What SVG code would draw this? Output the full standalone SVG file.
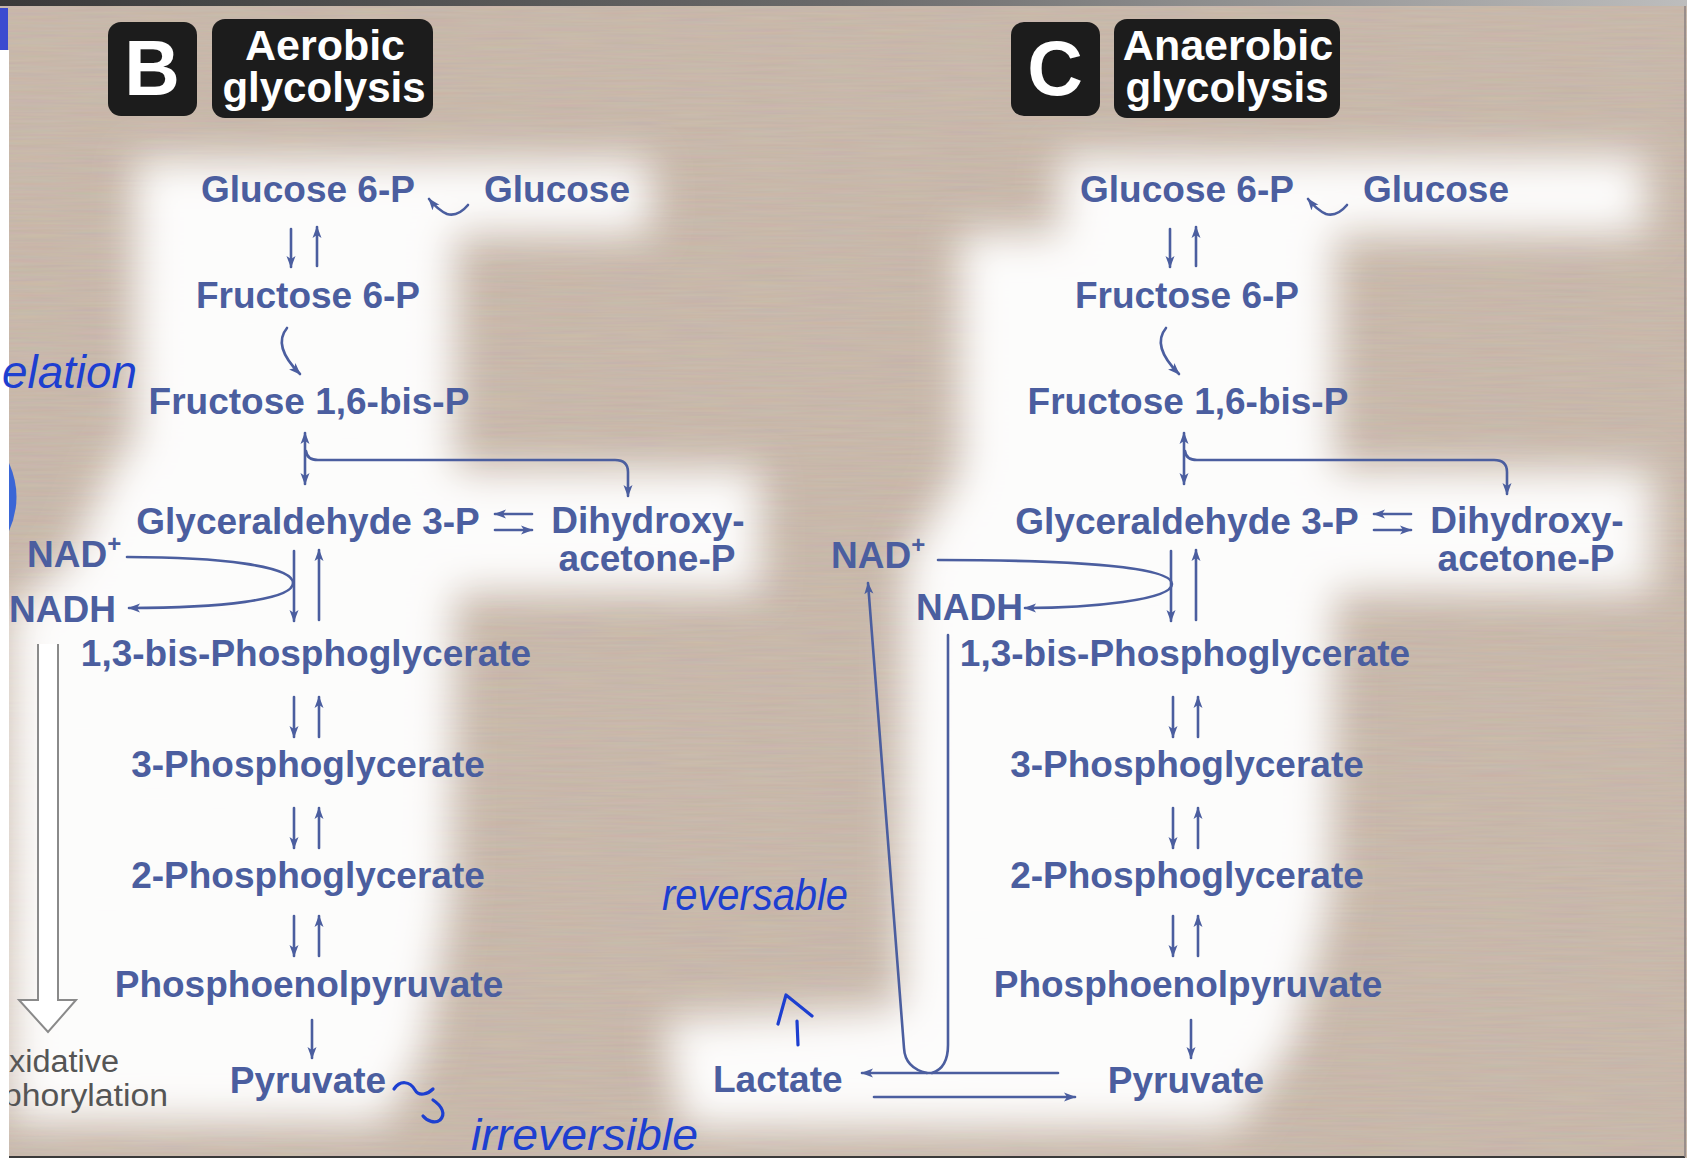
<svg xmlns="http://www.w3.org/2000/svg" width="1687" height="1161" viewBox="0 0 1687 1161">
<defs>
<style>
.t{font-family:"Liberation Sans",Arial,sans-serif;font-weight:bold;font-size:37px;fill:#4b5e9f;text-anchor:middle}
.tl{font-family:"Liberation Sans",Arial,sans-serif;font-weight:bold;font-size:37px;fill:#4b5e9f}
.badge{fill:#1c1c1c}
.bt{font-family:"Liberation Sans",Arial,sans-serif;font-weight:bold;fill:#ffffff;text-anchor:middle}
.c{fill:none;stroke:#4b5e9f;stroke-width:2.6;stroke-linecap:round}
.ink{font-family:"Liberation Sans",Arial,sans-serif;font-style:italic;fill:#1d3fd0}
.inkl{fill:none;stroke:#1d3fd0;stroke-width:3.2;stroke-linecap:round;stroke-linejoin:round}
.gray{font-family:"Liberation Sans",Arial,sans-serif;font-size:31px;fill:#555555}
</style>
<marker id="ah" viewBox="0 0 12 10" refX="11" refY="5" markerWidth="12" markerHeight="10" markerUnits="userSpaceOnUse" orient="auto-start-reverse">
<path d="M0,0.5 L12,5 L0,9.5 L3,5 z" fill="#4b5e9f"/>
</marker>
<filter id="glow" x="-20%" y="-20%" width="140%" height="140%">
<feGaussianBlur stdDeviation="20"/>
</filter>
<filter id="grain" x="0" y="0" width="100%" height="100%">
<feTurbulence type="fractalNoise" baseFrequency="0.015 0.4" numOctaves="2" seed="7"/>
<feColorMatrix type="matrix" values="0.5 0 0 0 0.3  0 0.5 0 0 0.27  0 0 0.5 0 0.3  0 0 0 0 1"/>
</filter>
<linearGradient id="topg" x1="0" y1="0" x2="1" y2="0">
<stop offset="0" stop-color="#3a3a3a"/>
<stop offset="0.5" stop-color="#6a6a6a"/>
<stop offset="1" stop-color="#bdbdbd"/>
</linearGradient>
</defs>

<!-- background -->
<rect x="0" y="0" width="1687" height="1161" fill="#c9b7a6"/>
<rect x="0" y="0" width="1687" height="1161" filter="url(#grain)" opacity="0.16"/>

<!-- white glows -->
<g id="glows" fill="#ffffff" filter="url(#glow)" opacity="0.96">
<path d="M135,160 L650,160 L650,234 L455,234 L455,470 L760,470 L760,592 L455,592 L450,900 L425,1050 L385,1122 L10,1122 L10,610 L70,560 L110,470 L135,440 Z"/>
<path d="M1060,156 L1645,156 L1645,234 L1335,234 L1335,470 L1652,470 L1652,592 L1335,592 L1330,900 L1295,1040 L1235,1127 L682,1127 L664,1020 L900,1008 L905,590 L905,560 L960,470 L960,234 L1060,234 Z"/>
</g>

<!-- badges -->
<g id="badge-B"><rect class="badge" x="108" y="22" width="89" height="94" rx="13"/><text class="bt" x="152" y="95" font-size="77">B</text></g>
<g id="badge-aerobic"><rect class="badge" x="212" y="19" width="221" height="99" rx="13"/><text class="bt" x="325" y="60" font-size="43">Aerobic</text><text class="bt" x="324" y="102" font-size="42">glycolysis</text></g>
<g id="badge-C"><rect class="badge" x="1011" y="22" width="89" height="94" rx="13"/><text class="bt" x="1055" y="95" font-size="77">C</text></g>
<g id="badge-anaerobic"><rect class="badge" x="1114" y="19" width="226" height="99" rx="13"/><text class="bt" x="1228" y="60" font-size="43">Anaerobic</text><text class="bt" x="1227" y="102" font-size="42">glycolysis</text></g>

<!-- B panel nodes -->
<g id="b-glucose6p"><text class="t" x="308" y="202">Glucose 6-P</text></g>
<g id="b-glucose"><text class="tl" x="484" y="202">Glucose</text></g>
<g id="b-fructose6p"><text class="t" x="308" y="308">Fructose 6-P</text></g>
<g id="b-fructose16bp"><text class="t" x="309" y="414">Fructose 1,6-bis-P</text></g>
<g id="b-g3p"><text class="t" x="308" y="534">Glyceraldehyde 3-P</text></g>
<g id="b-dhap"><text class="t" x="648" y="533" font-size="35">Dihydroxy-</text><text class="t" x="647" y="571" font-size="35">acetone-P</text></g>
<g id="b-nadplus"><text class="tl" x="27" y="567">NAD<tspan font-size="24" dy="-15">+</tspan></text></g>
<g id="b-nadh"><text class="tl" x="9" y="622">NADH</text></g>
<g id="b-13bpg"><text class="t" x="306" y="666">1,3-bis-Phosphoglycerate</text></g>
<g id="b-3pg"><text class="t" x="308" y="777">3-Phosphoglycerate</text></g>
<g id="b-2pg"><text class="t" x="308" y="888">2-Phosphoglycerate</text></g>
<g id="b-pep"><text class="t" x="309" y="997">Phosphoenolpyruvate</text></g>
<g id="b-pyruvate"><text class="t" x="308" y="1093">Pyruvate</text></g>
<g id="b-oxphos">
<polygon points="38,644 58,644 58,1000 76,1000 48,1032 19,1000 38,1000" fill="#ffffff"/>
<path d="M38,644 L38,1000 L19,1000 L48,1032 L76,1000 L58,1000 L58,644" fill="none" stroke="#8a8a8a" stroke-width="2"/>
<text class="gray" x="9" y="1072" textLength="110" lengthAdjust="spacingAndGlyphs">xidative</text>
<text class="gray" x="3" y="1106" textLength="165" lengthAdjust="spacingAndGlyphs">phorylation</text>
</g>

<!-- C panel nodes -->
<g id="c-glucose6p"><text class="t" x="1187" y="202">Glucose 6-P</text></g>
<g id="c-glucose"><text class="tl" x="1363" y="202">Glucose</text></g>
<g id="c-fructose6p"><text class="t" x="1187" y="308">Fructose 6-P</text></g>
<g id="c-fructose16bp"><text class="t" x="1188" y="414">Fructose 1,6-bis-P</text></g>
<g id="c-g3p"><text class="t" x="1187" y="534">Glyceraldehyde 3-P</text></g>
<g id="c-dhap"><text class="t" x="1527" y="533" font-size="35">Dihydroxy-</text><text class="t" x="1526" y="571" font-size="35">acetone-P</text></g>
<g id="c-nadplus"><text class="tl" x="831" y="568">NAD<tspan font-size="24" dy="-15">+</tspan></text></g>
<g id="c-nadh"><text class="tl" x="916" y="620">NADH</text></g>
<g id="c-13bpg"><text class="t" x="1185" y="666">1,3-bis-Phosphoglycerate</text></g>
<g id="c-3pg"><text class="t" x="1187" y="777">3-Phosphoglycerate</text></g>
<g id="c-2pg"><text class="t" x="1187" y="888">2-Phosphoglycerate</text></g>
<g id="c-pep"><text class="t" x="1188" y="997">Phosphoenolpyruvate</text></g>
<g id="c-pyruvate"><text class="t" x="1186" y="1093">Pyruvate</text></g>
<g id="c-lactate"><text class="tl" x="713" y="1092">Lactate</text></g>

<!-- connectors -->
<g id="connectors">
<!-- B -->
<path class="c" d="M468,205 Q458,217 447,214 Q438,210 429,199" marker-end="url(#ah)"/>
<line class="c" x1="291" y1="229" x2="291" y2="267" marker-end="url(#ah)"/>
<line class="c" x1="317" y1="266" x2="317" y2="227" marker-end="url(#ah)"/>
<path class="c" d="M287,328 Q272,346 300,374" marker-end="url(#ah)"/>
<line class="c" x1="305" y1="433" x2="305" y2="484" marker-start="url(#ah)" marker-end="url(#ah)"/>
<path class="c" d="M306,451 Q307,460 318,460 L615,460 Q628,460 628,472 L628,496" marker-end="url(#ah)"/>
<line class="c" x1="532" y1="514" x2="495" y2="514" marker-end="url(#ah)"/>
<line class="c" x1="495" y1="530" x2="532" y2="530" marker-end="url(#ah)"/>
<line class="c" x1="294" y1="551" x2="294" y2="621" marker-end="url(#ah)"/>
<line class="c" x1="319" y1="620" x2="319" y2="550" marker-end="url(#ah)"/>
<path class="c" d="M127,557 C220,557 293,566 293,583 C293,600 220,608 129,608" marker-end="url(#ah)"/>
<line class="c" x1="294" y1="697" x2="294" y2="737" marker-end="url(#ah)"/>
<line class="c" x1="319" y1="737" x2="319" y2="697" marker-end="url(#ah)"/>
<line class="c" x1="294" y1="808" x2="294" y2="848" marker-end="url(#ah)"/>
<line class="c" x1="319" y1="848" x2="319" y2="808" marker-end="url(#ah)"/>
<line class="c" x1="294" y1="916" x2="294" y2="956" marker-end="url(#ah)"/>
<line class="c" x1="319" y1="956" x2="319" y2="916" marker-end="url(#ah)"/>
<line class="c" x1="312" y1="1020" x2="312" y2="1058" marker-end="url(#ah)"/>
<!-- C -->
<path class="c" d="M1347,205 Q1337,217 1326,214 Q1317,210 1308,199" marker-end="url(#ah)"/>
<line class="c" x1="1170" y1="229" x2="1170" y2="267" marker-end="url(#ah)"/>
<line class="c" x1="1196" y1="266" x2="1196" y2="227" marker-end="url(#ah)"/>
<path class="c" d="M1166,328 Q1151,346 1179,374" marker-end="url(#ah)"/>
<line class="c" x1="1184" y1="433" x2="1184" y2="484" marker-start="url(#ah)" marker-end="url(#ah)"/>
<path class="c" d="M1185,451 Q1186,460 1197,460 L1494,460 Q1507,460 1507,472 L1507,494" marker-end="url(#ah)"/>
<line class="c" x1="1411" y1="514" x2="1374" y2="514" marker-end="url(#ah)"/>
<line class="c" x1="1374" y1="530" x2="1411" y2="530" marker-end="url(#ah)"/>
<line class="c" x1="1171" y1="551" x2="1171" y2="621" marker-end="url(#ah)"/>
<line class="c" x1="1196" y1="620" x2="1196" y2="550" marker-end="url(#ah)"/>
<path class="c" d="M938,560 C1080,560 1172,567 1172,584 C1172,600 1090,608 1025,608" marker-end="url(#ah)"/>
<line class="c" x1="1173" y1="697" x2="1173" y2="737" marker-end="url(#ah)"/>
<line class="c" x1="1198" y1="737" x2="1198" y2="697" marker-end="url(#ah)"/>
<line class="c" x1="1173" y1="808" x2="1173" y2="848" marker-end="url(#ah)"/>
<line class="c" x1="1198" y1="848" x2="1198" y2="808" marker-end="url(#ah)"/>
<line class="c" x1="1173" y1="916" x2="1173" y2="956" marker-end="url(#ah)"/>
<line class="c" x1="1198" y1="956" x2="1198" y2="916" marker-end="url(#ah)"/>
<line class="c" x1="1191" y1="1020" x2="1191" y2="1058" marker-end="url(#ah)"/>
<path class="c" d="M927,1073 Q905,1068 904,1048 L868,583" marker-end="url(#ah)"/>
<path class="c" d="M948,635 L948,1045 Q948,1068 932,1073"/>
<line class="c" x1="1058" y1="1073" x2="862" y2="1073" marker-end="url(#ah)" stroke-width="3"/>
<line class="c" x1="874" y1="1097" x2="1075" y2="1097" marker-end="url(#ah)"/>
</g>

<!-- page frame -->
<g id="frame">
<rect x="0" y="0" width="1687" height="6" fill="url(#topg)"/>
<rect x="0" y="50" width="9" height="1111" fill="#ffffff"/>
<rect x="0" y="8" width="8" height="42" fill="#3b4bd0"/>
<path d="M9,463 Q24,497 9,531 Z" fill="#3a66d6"/>
<rect x="0" y="1158" width="1687" height="3" fill="#ffffff"/>
<line x1="9" y1="1157" x2="1685" y2="1157" stroke="#3a3a3a" stroke-width="2"/>
<line x1="1685" y1="6" x2="1685" y2="1157" stroke="#8a8080" stroke-width="1.5"/>
</g>

<!-- handwritten annotations -->
<g id="annotations">
<text class="ink" x="2" y="388" font-size="46" textLength="135" lengthAdjust="spacingAndGlyphs">elation</text>
<text class="ink" x="662" y="910" font-size="44" textLength="186" lengthAdjust="spacingAndGlyphs">reversable</text>
<path class="inkl" d="M798,1045 L797,1021 M778,1024 L786,995 L812,1016"/>
<path class="inkl" d="M394,1089 C400,1080 410,1081 415,1090 C419,1097 428,1094 433,1089 M433,1100 C442,1106 446,1114 440,1120 C435,1124 427,1121 423,1116"/>
<text class="ink" x="471" y="1150" font-size="44" textLength="227" lengthAdjust="spacingAndGlyphs">irreversible</text>
</g>
</svg>
